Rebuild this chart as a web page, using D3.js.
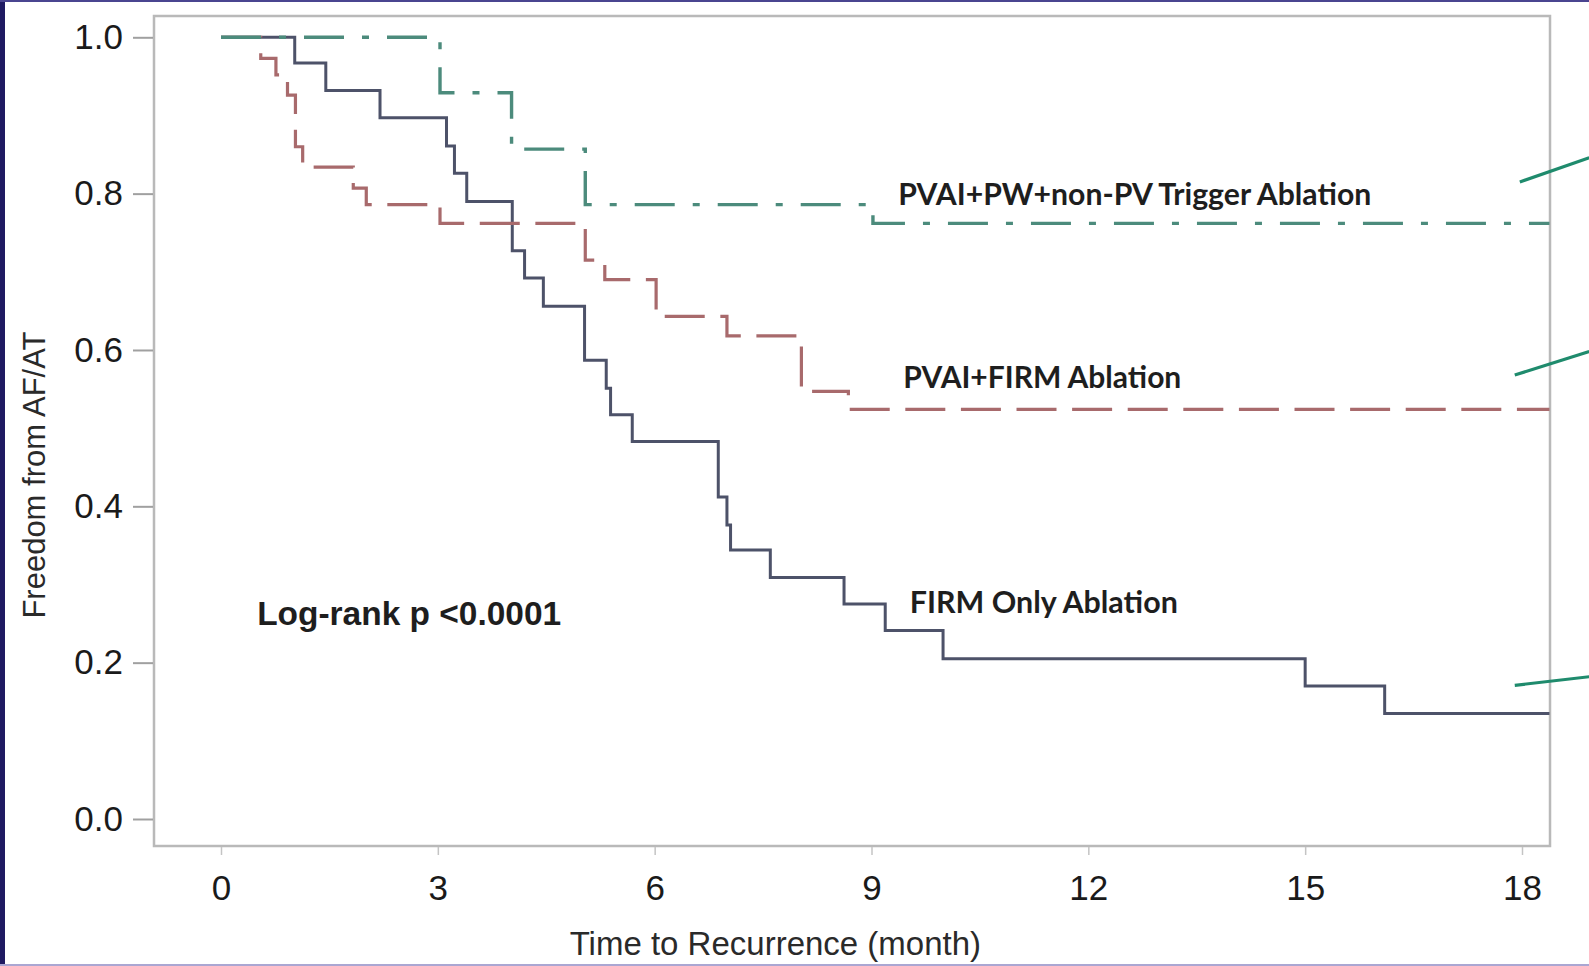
<!DOCTYPE html>
<html>
<head>
<meta charset="utf-8">
<script src="https://cdn.jsdelivr.net/npm/d3@7"></script>
<style>
  html, body { margin: 0; padding: 0; background: #ffffff; }
  svg { display: block; }
</style>
</head>
<body>
<svg id="chart" width="1589" height="966"></svg>
<script>
// ---------------- data ----------------
const xTicks = [0, 3, 6, 9, 12, 15, 18];
const yTicks = [0.0, 0.2, 0.4, 0.6, 0.8, 1.0];

// PVAI+PW+non-PV Trigger Ablation (months, survival)
const greenTimes = [0, 3.03, 4.02, 5.04, 9.02, 18.38];
const greenSurv  = [1.0, 0.929, 0.857, 0.786, 0.762, 0.762];

// PVAI+FIRM Ablation
const redTimes = [0, 0.55, 0.76, 0.92, 1.03, 1.13, 1.83, 2.01, 3.03, 5.04, 5.31, 6.02, 7.0, 8.03, 8.68, 18.38];
const redSurv  = [1.0, 0.973, 0.952, 0.926, 0.86, 0.834, 0.807, 0.786, 0.762, 0.715, 0.69, 0.643, 0.618, 0.547, 0.524, 0.524];

// FIRM Only Ablation
const navyTimes = [0, 1.02, 1.45, 2.2, 3.12, 3.23, 3.40, 4.03, 4.2, 4.46, 5.03, 5.33, 5.39, 5.69, 6.88, 7.0, 7.05, 7.6, 8.62, 9.19, 9.99, 15.0, 16.1, 18.38];
const navySurv  = [1.0, 0.967, 0.932, 0.897, 0.861, 0.826, 0.79, 0.727, 0.692, 0.656, 0.587, 0.551, 0.517, 0.483, 0.412, 0.376, 0.344, 0.309, 0.275, 0.241, 0.205, 0.170, 0.135, 0.135];

const seriesLabels = ["PVAI+PW+non-PV Trigger Ablation", "PVAI+FIRM Ablation", "FIRM Only Ablation"];
const labelMonths  = [9.37, 9.44, 9.53];
const labelValues  = [0.786, 0.551, 0.264];
const statText = "Log-rank p <0.0001";
const statMonth = 0.5, statValue = 0.248;
const xTitle = "Time to Recurrence (month)";
const yTitle = "Freedom from AF/AT";

// pointer strokes at the right edge (month, value) start -> end
const pointerStart = [[17.97, 0.815], [17.90, 0.568], [17.90, 0.171]];
const pointerEnd   = [[18.93, 0.846], [18.93, 0.598], [18.93, 0.182]];

// ---------------- layout ----------------
const svg = d3.select("#chart");
const W = 1589, H = 966;
const frame = { left: 154, top: 16, right: 1550, bottom: 846 };

const x = d3.scaleLinear().domain([0, 18]).range([221, 1522]);
const y = d3.scaleLinear().domain([0, 1]).range([819, 37.3]);

// outer border of the slide
svg.append("rect").attr("x", 0).attr("y", 0).attr("width", W).attr("height", H).attr("fill", "#ffffff");
svg.append("rect").attr("x", 0).attr("y", 0).attr("width", 5).attr("height", H).attr("fill", "#1f1a62");
svg.append("rect").attr("x", 0).attr("y", 0).attr("width", W).attr("height", 2).attr("fill", "#4a4590");
svg.append("rect").attr("x", 0).attr("y", H - 2).attr("width", W).attr("height", 2).attr("fill", "#aaa6d2");

// plot frame
svg.append("rect")
  .attr("x", frame.left).attr("y", frame.top)
  .attr("width", frame.right - frame.left).attr("height", frame.bottom - frame.top)
  .attr("fill", "none").attr("stroke", "#b9b9b9").attr("stroke-width", 2.5);

// y axis
const yAxis = svg.append("g")
  .attr("transform", `translate(${frame.left - 1},0)`)
  .call(d3.axisLeft(y).tickValues(yTicks).tickFormat(d3.format(".1f")).tickSize(20).tickPadding(10));
yAxis.select(".domain").remove();
yAxis.selectAll(".tick line").attr("stroke", "#a0a0a0").attr("stroke-width", 2);
yAxis.selectAll(".tick text")
  .attr("font-family", "Liberation Sans, Arial, sans-serif")
  .attr("font-size", 35).attr("fill", "#1a1a1a");

// x axis
const xAxis = svg.append("g")
  .attr("transform", `translate(0,${frame.bottom + 1})`)
  .call(d3.axisBottom(x).tickValues(xTicks).tickFormat(d3.format("d")).tickSize(8).tickPadding(20));
xAxis.select(".domain").remove();
xAxis.selectAll(".tick line").attr("stroke", "#c4c4c4").attr("stroke-width", 1.5);
xAxis.selectAll(".tick text")
  .attr("font-family", "Liberation Sans, Arial, sans-serif")
  .attr("font-size", 35).attr("fill", "#1a1a1a");

// axis titles
svg.append("text")
  .attr("x", x(7.67)).attr("y", 955)
  .attr("text-anchor", "middle")
  .attr("font-family", "Liberation Sans, Arial, sans-serif")
  .attr("font-size", 33).attr("fill", "#2a2a2a")
  .text(xTitle);

svg.append("text")
  .attr("transform", `translate(45,${y(0.44)}) rotate(-90)`)
  .attr("text-anchor", "middle")
  .attr("font-family", "Liberation Sans, Arial, sans-serif")
  .attr("font-size", 31).attr("fill", "#2a2a2a")
  .text(yTitle);

// ---------------- curves ----------------
const line = d3.line().x(d => x(d[0])).y(d => y(d[1])).curve(d3.curveStepAfter);
const zip = (t, s) => t.map((v, i) => [v, s[i]]);

svg.append("path").datum(zip(navyTimes, navySurv))
  .attr("d", line).attr("fill", "none")
  .attr("stroke", "#4d5269").attr("stroke-width", 3);

svg.append("path").datum(zip(redTimes, redSurv))
  .attr("d", line).attr("fill", "none")
  .attr("stroke", "#a86a6c").attr("stroke-width", 3.2)
  .attr("stroke-dasharray", "40,15.6");

svg.append("path").datum(zip(greenTimes, greenSurv))
  .attr("d", line).attr("fill", "none")
  .attr("stroke", "#4c8b7c").attr("stroke-width", 3.4)
  .attr("stroke-dasharray", "40,18,7,18");

// ---------------- annotations ----------------
const labelWidths = [473, 278, 268];
seriesLabels.forEach((s, i) => {
  svg.append("text")
    .attr("x", x(labelMonths[i])).attr("y", y(labelValues[i]))
    .attr("font-family", "Lato, 'Open Sans', sans-serif")
    .attr("font-weight", "bold")
    .attr("font-size", 30).attr("fill", "#1e1e1e")
    .attr("textLength", labelWidths[i]).attr("lengthAdjust", "spacingAndGlyphs")
    .text(s);
});

svg.append("text")
  .attr("x", x(statMonth)).attr("y", y(statValue))
  .attr("font-family", "Liberation Sans, Arial, sans-serif")
  .attr("font-weight", "bold")
  .attr("font-size", 34).attr("fill", "#1e1e1e")
  .attr("textLength", 304).attr("lengthAdjust", "spacingAndGlyphs")
  .text(statText);

pointerStart.forEach((p, i) => {
  svg.append("line")
    .attr("x1", x(p[0])).attr("y1", y(p[1]))
    .attr("x2", x(pointerEnd[i][0])).attr("y2", y(pointerEnd[i][1]))
    .attr("stroke", "#1f8b6d").attr("stroke-width", 3.2);
});
</script>
</body>
</html>
